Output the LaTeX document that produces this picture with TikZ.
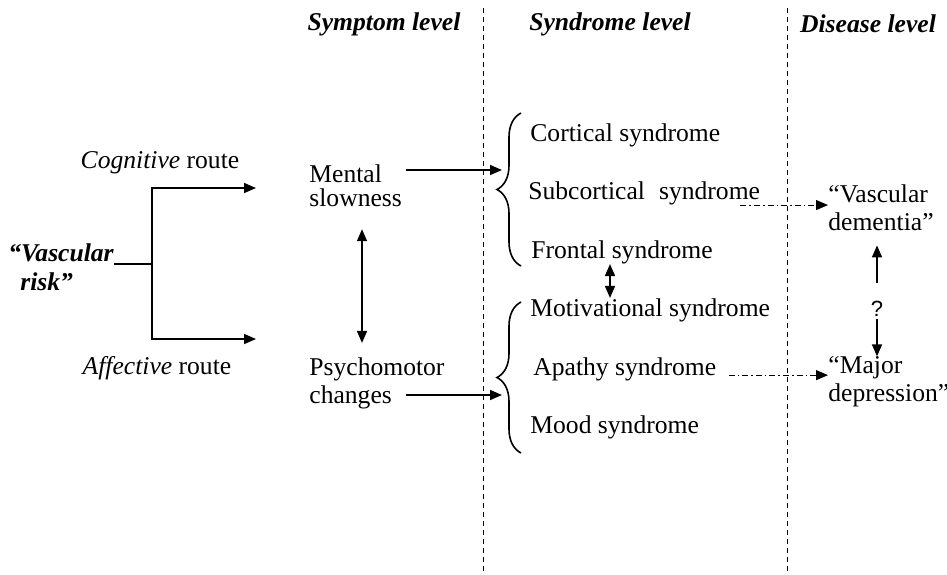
\documentclass[tikz,border=0pt]{standalone}
\usepackage{fontspec}
\setmainfont{Liberation Serif}
\newfontfamily\qfont{Liberation Sans}
\usetikzlibrary{arrows.meta,decorations.pathreplacing}

\tikzset{
  lbl/.style={font=\fontsize{12.8}{14}\selectfont, inner sep=0pt, align=left},
  hdr/.style={font=\fontsize{12.8}{14}\selectfont\bfseries\itshape, inner sep=0pt},
  arr/.style={-{Triangle[length=6pt,width=5pt]}, line width=0.8pt},
  dbl/.style={{Triangle[length=6pt,width=5pt]}-{Triangle[length=6pt,width=5pt]}, line width=0.8pt},
  ddot/.style={arr, line width=0.5pt, dash pattern=on 3pt off 1.5pt on 0.8pt off 1.5pt},
  lvl/.style={line width=0.5pt, dash pattern=on 2.5pt off 2pt},
  brc/.style={decorate, decoration={brace, amplitude=12pt}, line width=0.8pt}
}

\begin{document}
\begin{tikzpicture}[x=0.5pt, y=-0.5pt]
  \useasboundingbox (0,0) rectangle (947,574);

  % levels
  \node[hdr] (hsym) at (384,24) {Symptom level};
  \node[hdr] (hsyn) at (610,24) {Syndrome level};
  \node[hdr] (hdis) at (868,24) {Disease level};
  \draw[lvl] (483,8) -- (483,574);
  \draw[lvl] (787,8) -- (787,574);

  % risk and routes
  \node[lbl, font=\fontsize{12.8}{14.5}\selectfont\bfseries\itshape, anchor=west] (vr) at (8,267)
    {``Vascular\\\hspace*{6pt}risk''};
  \node[lbl] (cog) at (160,163) {\textit{Cognitive} route};
  \node[lbl] (aff) at (157,368) {\textit{Affective} route};
  \coordinate (fork) at (152,264);
  \coordinate (cogend) at (256,188);
  \coordinate (affend) at (256,339);
  \draw[line width=0.8pt] (vr.east |- fork) -- (fork);
  \draw[arr] (fork) |- (cogend);
  \draw[arr] (fork) |- (affend);

  % symptom level
  \node[lbl, font=\fontsize{12.8}{11.8}\selectfont, anchor=west, inner sep=2pt] (ms) at (305,186) {Mental\\slowness};
  \node[lbl, font=\fontsize{12.8}{14}\selectfont, anchor=west, inner sep=2pt] (pc) at (305,383) {Psychomotor\\changes};
  \coordinate (ax) at (362,0);
  \draw[dbl, shorten <=9pt, shorten >=5pt] (ms.south -| ax) -- (pc.north -| ax);

  % syndrome level
  \node[lbl, anchor=west] (cs)  at (530,135) {Cortical syndrome};
  \node[lbl, anchor=west] (sc)  at (528,193) {Subcortical\hspace{0.3em} syndrome};
  \node[lbl, anchor=west] (fs)  at (531,252) {Frontal syndrome};
  \node[lbl, anchor=west] (mo)  at (530,310) {Motivational syndrome};
  \node[lbl, anchor=west] (ap)  at (533,369) {Apathy syndrome};
  \node[lbl, anchor=west] (md2) at (530,427) {Mood syndrome};
  \draw[brc] (521,266) -- (521,113);
  \draw[brc] (521,453) -- (521,302);
  \coordinate (b1) at (502,170);
  \coordinate (b2) at (502,395);
  \draw[arr] (b1 -| ms.east) -- (b1);
  \draw[arr] (b2 -| ms.east) -- (b2);
  \coordinate (fx) at (610,0);
  \draw[dbl] (fs.south -| fx) -- (mo.north -| fx);

  % disease level
  \node[lbl, font=\fontsize{12.8}{14}\selectfont, anchor=west] (vd) at (828,208) {``Vascular\\dementia''};
  \node[lbl, font=\fontsize{12.8}{14}\selectfont, anchor=west] (mdp) at (828,382) {``Major\\depression''};
  \node[font=\qfont\fontsize{11}{12}\selectfont, inner sep=1pt] (q) at (877,309) {?};
  \coordinate (d1) at ([xshift=-10pt]sc.south east);
  \draw[ddot] (d1) -- (d1 -| vd.west);
  \draw[ddot] ([xshift=6pt]ap.base east) -- (ap.base east -| mdp.west);
  \draw[arr, shorten <=8pt, shorten >=7pt] (q.north) -- (vd.south -| q);
  \draw[arr] (q.south) -- (mdp.north -| q);
\end{tikzpicture}
\end{document}
